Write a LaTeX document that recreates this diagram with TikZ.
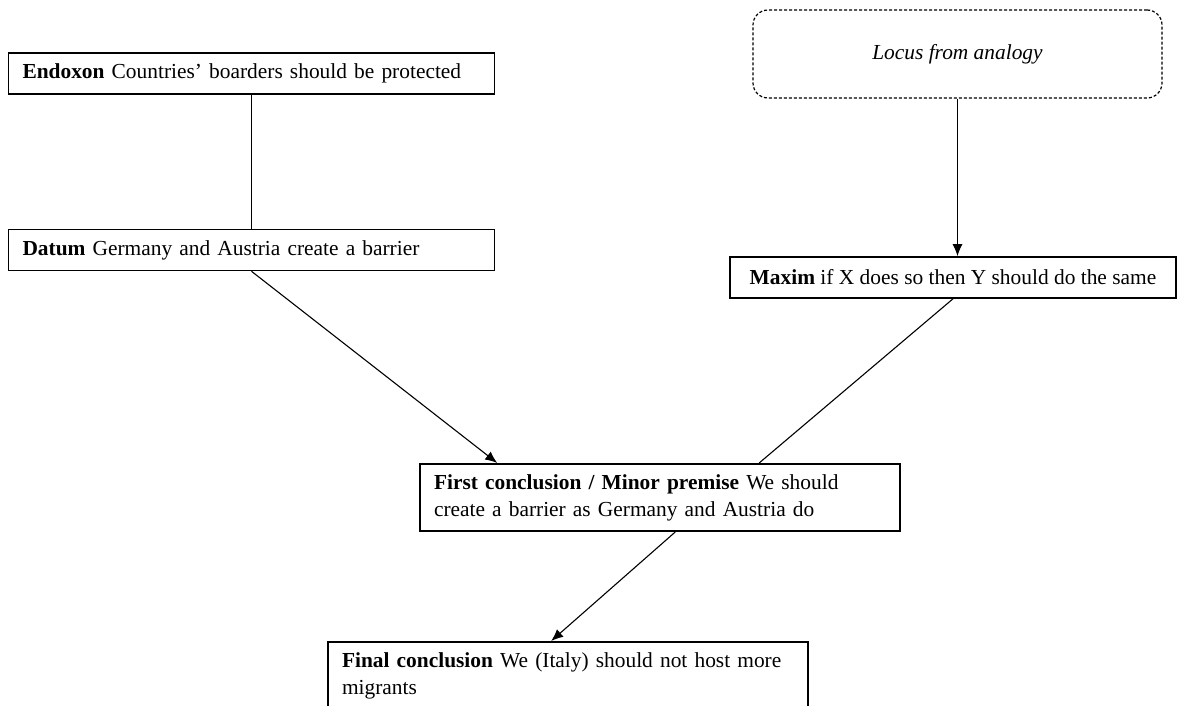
\documentclass[tikz,border=0pt]{standalone}
\usepackage{fontspec}
\setmainfont{Liberation Serif}
\usetikzlibrary{arrows.meta}

\tikzstyle{premise}=[draw,line width=0.8pt,rectangle,align=left,inner xsep=7pt,inner ysep=5.25pt,font=\fontsize{10.7}{13.5}\selectfont]
\tikzstyle{oneline}=[minimum height=20.5pt]
\tikzstyle{locus}=[draw,line width=0.6pt,rounded corners=7.5pt,dash pattern=on 1.5pt off 1pt,minimum width=204.5pt,minimum height=44pt,font=\fontsize{10.7}{13.5}\selectfont\itshape]
\tikzstyle{edge}=[draw,line width=0.55pt,-]
\tikzstyle{arrowdecorate}=[->,>={Latex[length=6pt,width=5pt]},line width=0.55pt]

\begin{document}
\begin{tikzpicture}[x=0.5pt,y=-0.5pt]
      \useasboundingbox (0,0) rectangle (1178,706);
      \clip (0,0) rectangle (1178,706);
      %% nodes
      \node[premise,oneline,text width=229pt] (endoxon) at (251.5,73.5) {\textbf{Endoxon} Countries' boarders should be protected};
      \node[premise,oneline,text width=229pt] (datum) at (251.5,250) {\textbf{Datum} Germany and Austria create a barrier};
      \node[locus] (locus) at (957.5,54) {Locus from analogy};
      \node[premise,oneline,minimum width=223pt] (maxim) at (953,277.5) {\textbf{Maxim} if X does so then Y should do the same};
      \node[premise,text width=226pt] (first) at (660,497.5) {\textbf{First conclusion / Minor premise} We should\\create a barrier as Germany and Austria do};
      \node[premise,text width=226pt,anchor=north] (final) at (568,641) {\textbf{Final conclusion} We (Italy) should not host more\\migrants\\\strut};

      % ends of the slanted lines
      \coordinate (maxtop) at (locus.south |- maxim.north);
      \coordinate (datin) at ([xshift=39pt]first.north west);
      \coordinate (maxin) at ([xshift=170pt]first.north west);
      \coordinate (firstout) at ([xshift=128pt]first.south west);
      \coordinate (finalin) at ([xshift=112pt]final.north west);

      % lines
      \path
      \foreach \startnode/\endnode in {endoxon.south/datum.north, maxim.south/maxin}
      {
        (\startnode) edge[edge] (\endnode)
      };
      % arrows
      \path
      \foreach \startnode/\endnode in {locus.south/maxtop, datum.south/datin, firstout/finalin}
      {
        (\startnode) edge[arrowdecorate] (\endnode)
      };
\end{tikzpicture}
\end{document}
